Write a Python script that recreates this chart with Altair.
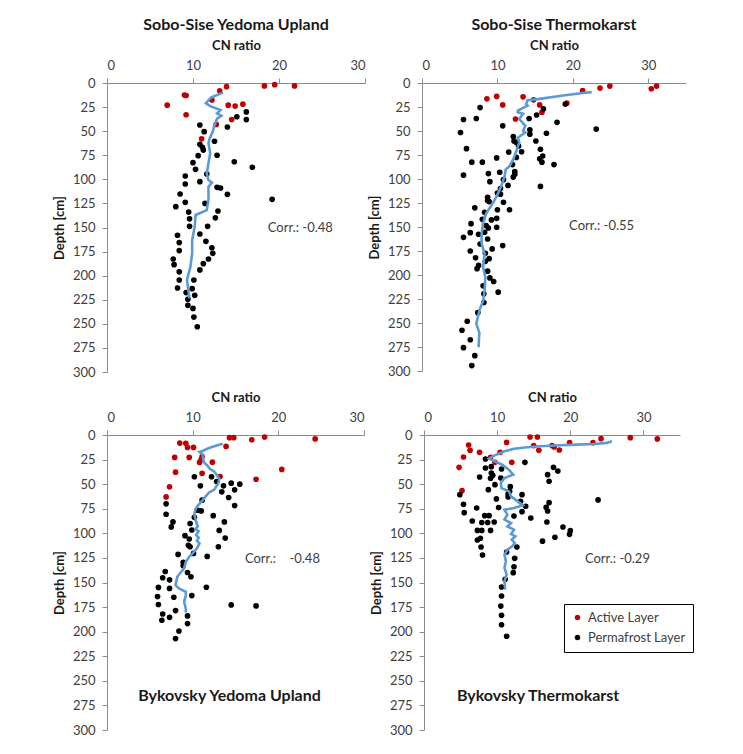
import altair as alt
import pandas as pd

# ---------------- Sobo-Sise Yedoma Upland ----------------
p1_red_cn = [13.9, 18.3, 19.5, 21.8, 13.1, 9.0, 9.2, 12.2, 7.0, 14.1, 14.9, 15.8, 9.2, 14.5, 12.7, 11.0]
p1_red_d = [3.8, 3, 1.7, 3, 8, 12.5, 13, 17.6, 23, 23, 24, 22, 33, 38, 43, 58]
p1_blk_cn = [16.2, 15.1, 16.2, 10.8, 11.3, 14.0, 12.5, 10.8, 11.1, 11.2, 10.6, 12.8, 10.0, 14.8, 10.3, 16.9,
             9.1, 11.6, 9.1, 10.8, 12.8, 13.2, 14.0, 8.5, 9.1, 11.4, 19.2, 8.0, 12.9, 9.5, 9.6, 12.6,
             9.6, 11.7, 10.8, 8.2, 8.4, 11.5, 8.4, 12.2, 12.3, 7.7, 11.8, 7.8, 11.2, 8.4, 10.8, 8.4,
             10.1, 8.2, 9.9, 9.2, 10.2, 9.4, 9.4, 10.0, 10.1, 10.5]
p1_blk_d = [30, 35, 38, 43.6, 50.5, 45.7, 60.5, 63.7, 66.8, 69.6, 75.4, 75, 82.7, 81.7, 89.6, 87.5,
            96.5, 94.5, 104.8, 102.4, 108.3, 109, 115.6, 115.2, 123.9, 125, 120.8, 128.4, 132.9, 134, 141, 140,
            148.8, 148.8, 156.7, 158, 165.7, 164.4, 174, 171, 176.8, 182.7, 182.7, 188.6, 187.5, 196, 194, 204.5,
            204.5, 212.8, 213.5, 217.6, 220.4, 224.6, 230.8, 234, 243, 253]
p1_ln_cn = [13.5, 12.1, 11.5, 12.0, 13.2, 12.8, 13.3, 12.8, 12.5, 12.3, 11.9, 11.8, 12.0, 11.8, 11.6, 11.8,
            12.2, 11.8, 11.8, 11.6, 10.3, 10.2, 9.9, 9.9, 9.7, 9.3, 9.5, 9.6]
p1_ln_d = [10, 15, 21, 24, 28, 31.5, 34, 37, 43.6, 50.5, 58.5, 62.6, 73, 83.4, 94, 100.7,
           103.5, 107.6, 121, 132, 137, 149, 163, 177, 190.7, 204.5, 218, 223.5]

# ---------------- Sobo-Sise Thermokarst ----------------
p2_red_cn = [21.3, 23.6, 24.9, 30.4, 31.1, 8.6, 9.9, 13.4, 14.8, 10.7, 15.6, 19.2, 15.9, 12.4]
p2_red_d = [8, 5.3, 3.2, 6, 3.2, 16.5, 14, 14.4, 17.5, 22.8, 22.8, 21, 30.5, 37.5]
p2_blk_cn = [19.0, 7.7, 16.1, 15.2, 5.5, 7.2, 14.2, 17.9, 10.7, 14.3, 14.3, 5.1, 16.5, 23.1, 12.1, 12.2,
             12.5, 12.8, 15.1, 5.9, 15.7, 11.5, 13.2, 16.0, 9.9, 12.5, 15.6, 15.9, 6.6, 8.0, 12.0, 17.5,
             12.3, 12.3, 12.1, 10.3, 8.8, 5.5, 10.8, 9.0, 11.4, 15.7, 10.4, 10.0, 10.4, 8.7, 8.7, 8.9,
             10.8, 7.0, 11.6, 10.0, 8.3, 9.9, 9.2, 8.0, 6.5, 9.9, 8.5, 8.8, 6.4, 7.5, 8.3, 5.5,
             8.7, 7.7, 10.7, 9.3, 6.4, 8.4, 7.1, 8.9, 8.4, 7.5, 7.3, 8.7, 9.0, 9.5, 8.1, 10.1,
             8.2, 8.2, 7.4, 6.0, 5.3, 6.4, 5.5, 7.0, 6.6]
p2_blk_d = [22, 25.6, 27, 33.3, 38, 37, 37, 41, 44.6, 48.8, 53.3, 51.6, 52.3, 48, 55.8, 60.4,
            62, 65.6, 60.4, 68.4, 69, 72, 71.6, 76, 78, 77.5, 79, 82.5, 82.5, 82.5, 85, 85,
            92.3, 95, 98, 93, 94.4, 96, 100.7, 102.8, 106.7, 107.7, 110, 114.7, 115.8, 119, 122.5, 123.5,
            124.2, 130, 132, 132, 134.7, 141, 142.6, 142, 146.5, 150.3, 148.5, 151, 155.9, 157.6, 155.5, 160.8,
            162.5, 167.7, 169.4, 172.8, 175, 177.4, 182, 183, 185.8, 190, 193.4, 196, 203, 206.8, 211.3, 217.9,
            219.6, 228.6, 239.2, 248.2, 257.6, 267.4, 275.7, 284, 294.4]
p2_ln_cn = [22.5, 21.3, 18.7, 15.6, 14.0, 13.8, 14.0, 12.7, 12.7, 13.4, 12.9, 13.7, 13.4, 13.7, 12.7, 12.9,
            12.5, 12.1, 11.6, 11.1, 10.95, 10.5, 9.9, 9.4, 8.5, 8.1, 7.9, 7.9, 8.3, 8.1, 8.4, 8.3,
            8.1, 7.6, 7.2, 7.6, 7.5]
p2_ln_d = [9.5, 10.5, 13, 16.5, 18, 21.8, 23.5, 28.8, 30.5, 32, 37.5, 44.6, 49.8, 51.6, 57, 62,
           71, 79.6, 86.7, 90, 97, 107.7, 118, 125, 136, 146, 157, 167, 178, 192, 202.5, 216.5,
           227, 237, 251, 260, 275.3]

# ---------------- Bykovsky Yedoma Upland ----------------
p3_red_cn = [14.3, 14.8, 18.4, 16.9, 24.3, 8.5, 9.2, 9.4, 10.1, 13.9, 7.9, 9.6, 11.1, 11.0, 10.8, 12.3,
             20.4, 8.0, 11.1, 13.2, 17.4, 7.3, 6.9]
p3_red_d = [2.7, 2.7, 2, 4.8, 4, 8.2, 8.5, 12.6, 12.6, 11.6, 22.8, 22.8, 22, 24.8, 27.9, 27.6,
            35, 37.8, 39, 42.2, 45, 52.7, 63]
p3_blk_cn = [10.2, 12.2, 12.8, 14.5, 15.5, 13.6, 10.9, 14.9, 13.4, 14.2, 11.1, 14.9, 6.9, 6.9, 10.6, 11.0,
             12.4, 10.2, 7.7, 7.5, 13.7, 9.7, 9.9, 13.1, 13.8, 9.1, 9.6, 9.5, 9.7, 13.0, 10.1, 8.3,
             11.7, 8.9, 8.9, 6.8, 9.4, 9.8, 6.5, 7.3, 6.0, 7.3, 11.6, 7.8, 9.9, 5.9, 6.0, 14.5,
             17.4, 8.0, 6.5, 9.4, 7.3, 6.4, 9.4, 8.4, 8.0]
p3_blk_d = [42.5, 42.5, 47.3, 49, 50, 51.7, 51.7, 55.8, 57.8, 63.6, 66.3, 71.8, 70, 80.6, 76.5, 77.2,
            82, 83.7, 88.4, 93.5, 88.4, 90, 96.6, 97, 104.8, 102.4, 105.8, 112.2, 113.6, 113.6, 120.4, 121.4,
            123.5, 129.6, 133, 138.8, 139.8, 144.2, 145.2, 147.3, 155, 156, 154.8, 165, 163.3, 164.3, 172.4, 172.8,
            173.8, 178.6, 182, 184, 185.4, 188.4, 191.8, 199.3, 207]
p3_ln_cn = [13.5, 12.9, 11.9, 11.2, 10.8, 11.2, 11.2, 11.3, 11.7, 12.0, 12.5, 12.8, 13.1, 13.0, 12.8, 12.5,
            11.9, 11.5, 11.1, 10.6, 10.3, 10.2, 10.4, 10.6, 10.3, 10.7, 10.4, 10.7, 10.5, 10.8, 10.5, 10.0,
            9.6, 9.2, 9.0, 8.6, 8.2, 8.0, 8.4, 9.2, 9.2, 9.0, 9.2, 9.2]
p3_ln_d = [8.8, 10.5, 13.3, 16, 17.3, 20, 23.5, 27.6, 31, 34.4, 37, 40.5, 44.6, 49, 51.7, 55.8,
           58.5, 62.6, 67, 71.8, 76, 81, 88, 93, 95.6, 98, 101.7, 104.4, 107.5, 110.2, 115.3, 120.4,
           123.8, 129, 135.7, 139.8, 144.2, 152.7, 156, 159.5, 163, 169.7, 176.5, 180.6]

# ---------------- Bykovsky Thermokarst ----------------
p4_red_cn = [14.5, 15.5, 28.2, 31.9, 24.2, 23.1, 19.9, 11.3, 15.0, 17.5, 17.8, 18.5, 15.7, 6.1, 6.3, 7.6,
             10.4, 5.4, 9.1, 9.7, 12.0, 4.8, 5.2]
p4_red_d = [2, 2, 2.7, 4, 3.7, 7.8, 7.8, 7.5, 10.8, 10.8, 12.2, 15.3, 15.6, 10.2, 15.6, 17.6,
            17.6, 22.4, 22.7, 27.8, 27.8, 32.9, 56.6]
p4_blk_cn = [8.4, 13.8, 9.2, 8.4, 10.6, 17.7, 18.3, 9.2, 9.4, 16.9, 7.6, 9.1, 10.5, 17.1, 9.7, 11.8,
             8.8, 11.7, 11.5, 13.4, 11.5, 4.9, 9.9, 23.8, 13.2, 17.1, 5.4, 13.9, 10.2, 7.2, 16.7, 16.9,
             13.4, 5.5, 12.3, 8.3, 8.9, 14.6, 6.6, 7.9, 8.7, 9.6, 16.8, 19.0, 7.3, 7.9, 9.1, 20.0,
             19.9, 7.7, 7.3, 16.2, 17.9, 12.7, 7.8, 11.3, 8.0, 12.4, 12.3, 12.2, 11.1, 10.6, 10.6, 10.5,
             10.6, 10.6, 11.3]
p4_blk_d = [24.4, 27.8, 32.2, 33.6, 34.6, 32.9, 36.6, 38.6, 41, 40.3, 42.7, 44, 43.7, 47, 50.5, 52.5,
            55.6, 57.3, 60, 60.7, 63, 60.7, 65, 66, 67.5, 68.8, 70.5, 72.5, 73.9, 74.2, 73.6, 77.3,
            78, 79, 82.4, 82, 82, 84.4, 87.5, 89, 89, 88.5, 88.5, 93.6, 97, 97, 97, 97.3,
            101, 105, 106.8, 108, 104, 113.9, 113.9, 119, 122, 125.4, 134, 140, 146.8, 154.6, 163.7, 174,
            183.4, 193, 204.7]
p4_ln_cn = [25.7, 25.0, 23.2, 20.9, 18.6, 15.9, 14.1, 12.3, 11.0, 9.6, 8.9, 9.7, 10.7, 11.6, 12.2, 11.0,
            10.5, 10.6, 11.6, 11.9, 12.8, 13.5, 12.3, 11.0, 11.4, 11.0, 11.9, 11.4, 12.3, 11.9, 12.5, 12.0,
            12.4, 12.1, 11.4, 11.0, 11.2, 11.0, 11.3, 11.0, 11.1]
p4_ln_d = [6.4, 8, 9.2, 9.8, 10.5, 11.5, 12.5, 14, 16.6, 21, 24, 26.8, 30.2, 35.3, 40.3, 43.7,
           48.8, 54, 57.3, 62.4, 67.5, 71.5, 74.2, 76, 81, 86, 89.5, 93, 96.3, 100.7, 103, 106.4,
           110, 113, 116.6, 121.7, 128.5, 135, 142, 148.8, 157.3]

titles = ["Sobo-Sise Yedoma Upland", "Sobo-Sise Thermokarst", "Bykovsky Yedoma Upland", "Bykovsky Thermokarst"]
corr_texts = ["Corr.: -0.48", "Corr.: -0.55", "Corr.:\u00a0\u00a0\u00a0\u00a0-0.48", "Corr.: -0.29"]
corr_cn = [18.7, 19.5, 16.1, 22.0]
corr_depth = [150.6, 149, 126, 126]
bottom_title_cn = [14.3, 15.6]
bottom_title_depth = [265, 265]
layers = ["Active Layer", "Permafrost Layer"]

FONT = "Lato"
RED = "#C00000"
BLUE = "#5B9BD5"


def panel(red_cn, red_d, blk_cn, blk_d, ln_cn, ln_d, xmax, w, h, k, top_title, legend):
    pts = pd.DataFrame({
        "cn": red_cn + blk_cn,
        "depth": red_d + blk_d,
        "layer": [layers[0]] * len(red_cn) + [layers[1]] * len(blk_cn),
    })
    ln = pd.DataFrame({"cn": ln_cn, "depth": ln_d, "i": list(range(len(ln_cn)))})
    x = alt.X("cn:Q", scale=alt.Scale(domain=[0, xmax], nice=False, zero=True),
              axis=alt.Axis(orient="top", values=[0, 10, 20, 30], title="CN ratio",
                            tickSize=5, labelPadding=6, titlePadding=7, grid=False))
    y = alt.Y("depth:Q", scale=alt.Scale(domain=[0, 300], reverse=True, nice=False),
              axis=alt.Axis(values=list(range(0, 301, 25)), title="Depth [cm]",
                            tickSize=5, labelPadding=7, titlePadding=6, grid=False))
    if legend:
        leg = alt.Legend(title=None, orient="none", legendX=140, legendY=169,
                         strokeColor="#000000", fillColor="white", padding=7,
                         labelFont=FONT, labelFontSize=13, labelColor="#404040",
                         symbolType="circle", symbolSize=30, rowPadding=6, labelOffset=4)
    else:
        leg = None
    color = alt.Color("layer:N", scale=alt.Scale(domain=layers, range=[RED, "#000000"]), legend=leg)
    points = alt.Chart(pts).mark_point(filled=True, size=32, opacity=1).encode(x=x, y=y, color=color)
    line = alt.Chart(ln).mark_line(color=BLUE, strokeWidth=2.6).encode(x=x, y=y, order="i:Q")
    corr = alt.Chart(pd.DataFrame({"cn": [corr_cn[k]], "depth": [corr_depth[k]], "t": [corr_texts[k]]})).mark_text(
        align="left", baseline="middle", font=FONT, fontSize=13, color="#404040").encode(x=x, y=y, text="t:N")
    lay = [points, line, corr]
    if not top_title:
        j = k - 2
        bt = alt.Chart(pd.DataFrame({"cn": [bottom_title_cn[j]], "depth": [bottom_title_depth[j]], "t": [titles[k]]})).mark_text(
            align="center", baseline="middle", font=FONT, fontSize=16, fontWeight="bold", color="#1a1a1a").encode(
            x=x, y=y, text="t:N")
        lay.append(bt)
    ch = alt.layer(*lay).properties(width=w, height=h)
    if top_title:
        ch = ch.properties(title=alt.TitleParams(titles[k], font=FONT, fontSize=16, fontWeight="bold",
                                                 color="#1a1a1a", offset=6))
    return ch


c1 = panel(p1_red_cn, p1_red_d, p1_blk_cn, p1_blk_d, p1_ln_cn, p1_ln_d, 30, 258, 289, 0, True, False)
c2 = panel(p2_red_cn, p2_red_d, p2_blk_cn, p2_blk_d, p2_ln_cn, p2_ln_d, 35, 264, 288, 1, True, False)
c3 = panel(p3_red_cn, p3_red_d, p3_blk_cn, p3_blk_d, p3_ln_cn, p3_ln_d, 30, 257, 295, 2, False, False)
c4 = panel(p4_red_cn, p4_red_d, p4_blk_cn, p4_blk_d, p4_ln_cn, p4_ln_d, 35, 256, 295, 3, False, True)

top = alt.hconcat(c1, c2, spacing=2).resolve_scale(x="independent", y="independent", color="independent").resolve_legend(color="independent")
bot = alt.hconcat(c3, c4, spacing=5).resolve_scale(x="independent", y="independent", color="independent").resolve_legend(color="independent")

chart = alt.vconcat(top, bot, spacing=12).resolve_scale(
    x="independent", y="independent", color="independent").resolve_legend(color="independent").properties(
    padding={"left": 45, "top": 9, "right": 5, "bottom": 5}
).configure_view(stroke=None).configure_axis(
    domainColor="#8c8c8c", tickColor="#8c8c8c", labelFont=FONT, labelFontSize=13, labelColor="#404040",
    titleFont=FONT, titleFontSize=13, titleFontWeight="bold", titleColor="#1a1a1a"
)

chart.save("out.html", embed_options={"renderer": "svg", "actions": False})
